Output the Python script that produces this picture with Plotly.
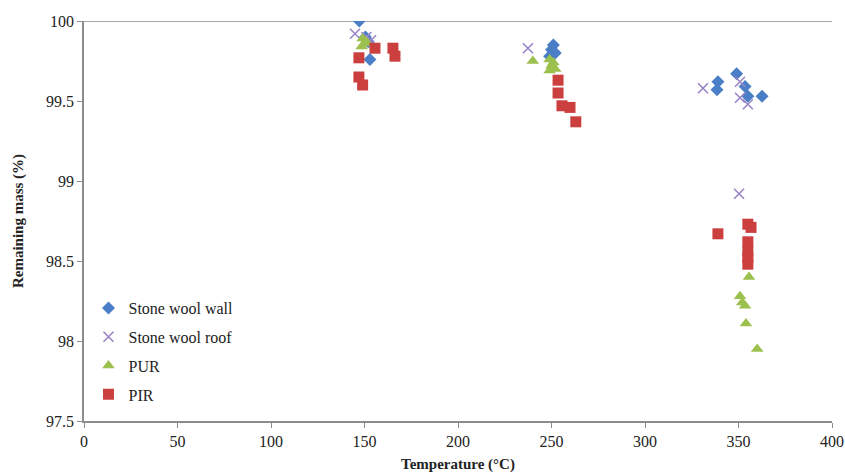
import plotly.graph_objects as go

# Stone wool wall
wall_x = [147.2, 152.9, 150.5, 152.0, 251.0, 250.0, 252.0, 249.0, 339.0, 338.5, 349.0, 353.5, 355.0, 362.6]
wall_y = [100.0, 99.76, 99.90, 99.87, 99.85, 99.82, 99.80, 99.78, 99.62, 99.57, 99.67, 99.59, 99.53, 99.53]
# Stone wool roof
roof_x = [144.9, 151.0, 153.5, 237.4, 331.0, 350.8, 350.8, 355.0, 350.3]
roof_y = [99.92, 99.90, 99.88, 99.83, 99.58, 99.62, 99.52, 99.48, 98.92]
# PUR
pur_x = [149.0, 150.0, 148.5, 151.0, 240.0, 249.0, 251.0, 250.0, 252.0, 249.0, 355.6, 350.8, 352.0, 353.5, 354.0, 360.0]
pur_y = [99.89, 99.86, 99.84, 99.87, 99.75, 99.76, 99.74, 99.72, 99.70, 99.69, 98.40, 98.28, 98.24, 98.22, 98.11, 97.95]
# PIR
pir_x = [155.6, 165.2, 166.3, 147.0, 147.0, 149.0, 253.5, 253.5, 255.6, 259.9, 263.0, 355.0, 356.7, 339.0, 355.0, 355.0, 355.0, 355.0]
pir_y = [99.83, 99.83, 99.78, 99.77, 99.65, 99.60, 99.63, 99.55, 99.47, 99.46, 99.37, 98.73, 98.71, 98.67, 98.62, 98.56, 98.52, 98.48]

x_ticks = [0, 50, 100, 150, 200, 250, 300, 350, 400]
y_ticks = [97.5, 98, 98.5, 99, 99.5, 100]
y_tick_text = ["97.5", "98", "98.5", "99", "99.5", "100"]

SERIF = "Liberation Serif, Times New Roman, serif"

fig = go.Figure()
fig.add_trace(go.Scatter(x=wall_x, y=wall_y, mode="markers", name="Stone wool wall", legendgroup="a",
                         marker=dict(symbol="diamond", size=10, color="#4A7EC6")))
fig.add_trace(go.Scatter(x=roof_x, y=roof_y, mode="markers", name="Stone wool roof", legendgroup="b",
                         marker=dict(symbol="x-thin", size=10, line=dict(width=1.6, color="#9A86C6"), color="#9A86C6")))
fig.add_trace(go.Scatter(x=pur_x, y=pur_y, mode="markers", name="PUR", legendgroup="c",
                         marker=dict(symbol="triangle-up", size=11, color="#9BC04E")))
fig.add_trace(go.Scatter(x=pir_x, y=pir_y, mode="markers", name="PIR", legendgroup="d",
                         marker=dict(symbol="square", size=11, color="#CC3F3F")))

fig.update_layout(
    width=845, height=475,
    margin=dict(l=84, r=13, t=21, b=54, autoexpand=False),
    paper_bgcolor="white", plot_bgcolor="white",
    font=dict(family=SERIF, size=16, color="#222222"),
    showlegend=True,
    legend=dict(x=0.006, y=0.325, xanchor="left", yanchor="top",
                font=dict(family=SERIF, size=16, color="#222222"),
                itemwidth=30, tracegroupgap=5, bgcolor="rgba(0,0,0,0)"),
    xaxis=dict(range=[0, 400], tickvals=x_ticks, showgrid=False, zeroline=False, automargin=False,
               showline=True, linecolor="#8C8C8C", linewidth=1.5,
               ticks="outside", ticklen=5, tickcolor="#8C8C8C",
               title=dict(text="<b>Temperature (°C)</b>", font=dict(size=15), standoff=10)),
    yaxis=dict(range=[97.5, 100], tickvals=y_ticks, ticktext=y_tick_text, showgrid=False, zeroline=False,
               automargin=False,
               showline=True, linecolor="#8C8C8C", linewidth=1.5,
               ticks="outside", ticklen=5, tickcolor="#8C8C8C",
               title=dict(text="<b>Remaining mass (%)</b>", font=dict(size=15), standoff=19)),
)
fig.add_shape(type="line", xref="paper", yref="y", x0=0, x1=1, y0=100, y1=100,
              line=dict(color="#8C8C8C", width=1.5), layer="below")

fig.write_html("out.html",
               config={"displayModeBar": False},
               post_script="document.body.style.margin='0';document.body.style.overflow='hidden';")
